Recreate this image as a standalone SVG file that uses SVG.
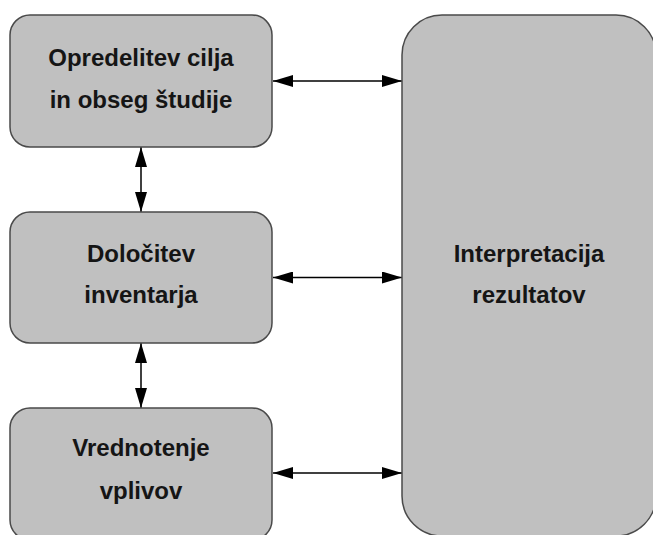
<svg xmlns="http://www.w3.org/2000/svg" width="653" height="535" viewBox="0 0 653 535">
<style>
.box{fill:#c0c0c0;stroke:#4a4a4a;stroke-width:1.5}
.t{font-family:"Liberation Sans",Arial,sans-serif;font-weight:bold;font-size:24px;fill:#151515;text-anchor:middle}
.c{stroke:#000;stroke-width:1.5;fill:none;marker-start:url(#a);marker-end:url(#a)}
</style>
<defs>
<marker id="a" viewBox="0 0 20 12" refX="20" refY="6" markerWidth="20" markerHeight="12" markerUnits="userSpaceOnUse" orient="auto-start-reverse">
<path d="M0,0 L20,6 L0,12 Z" fill="#000"/>
</marker>
</defs>
<rect width="653" height="535" fill="#fff"/>
<g id="connectors">
<line class="c" x1="273" y1="81" x2="402" y2="81"/>
<line class="c" x1="273" y1="277.5" x2="402" y2="277.5"/>
<line class="c" x1="273" y1="473" x2="402" y2="473"/>
<line class="c" x1="141" y1="147" x2="141" y2="212"/>
<line class="c" x1="141" y1="343" x2="141" y2="408"/>
</g>
<g id="n1">
<rect class="box" x="10" y="15" width="262" height="132" rx="20"/>
<text class="t" x="141" y="66">Opredelitev cilja</text>
<text class="t" x="141" y="108">in obseg študije</text>
</g>
<g id="n2">
<rect class="box" x="10" y="212" width="262" height="131" rx="20"/>
<text class="t" x="141" y="262">Določitev</text>
<text class="t" x="141" y="303">inventarja</text>
</g>
<g id="n3">
<rect class="box" x="10" y="408" width="262" height="132" rx="20"/>
<text class="t" x="141" y="456">Vrednotenje</text>
<text class="t" x="141" y="499">vplivov</text>
</g>
<g id="n4">
<rect class="box" x="402" y="15" width="254" height="521" rx="40"/>
<text class="t" x="529" y="262">Interpretacija</text>
<text class="t" x="529" y="303">rezultatov</text>
</g>
</svg>
